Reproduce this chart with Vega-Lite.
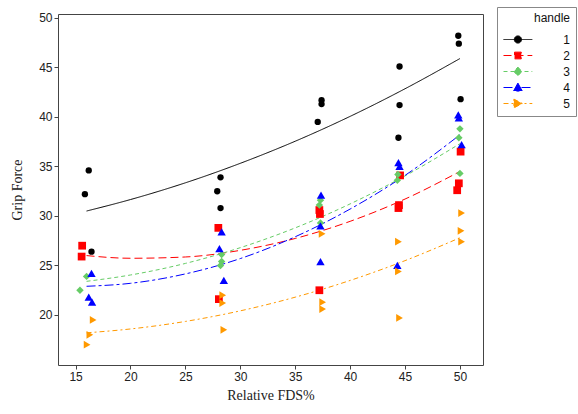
{
  "$schema": "https://vega.github.io/schema/vega-lite/v6.json",
  "autosize": "none",
  "width": 425,
  "height": 351,
  "padding": {"left": 58, "top": 14, "right": 95, "bottom": 49},
  "background": "white",
  "config": {
    "view": {"stroke": "#444444", "strokeWidth": 1},
    "axis": {
      "grid": false,
      "domain": false,
      "tickColor": "#444444",
      "tickSize": 4,
      "labelFont": "Liberation Sans",
      "labelFontSize": 12,
      "labelColor": "#222222",
      "titleFont": "Liberation Serif",
      "titleFontSize": 14,
      "titleFontWeight": "normal",
      "titleColor": "#222222"
    }
  },
  "datasets": {
    "pts": [
      {"fds": 16.2, "force": 34.6, "handle": "1"},
      {"fds": 15.85, "force": 32.2, "handle": "1"},
      {"fds": 16.45, "force": 26.4, "handle": "1"},
      {"fds": 28.2, "force": 33.9, "handle": "1"},
      {"fds": 27.9, "force": 32.5, "handle": "1"},
      {"fds": 28.2, "force": 30.8, "handle": "1"},
      {"fds": 37.4, "force": 41.7, "handle": "1"},
      {"fds": 37.4, "force": 41.3, "handle": "1"},
      {"fds": 37.05, "force": 39.5, "handle": "1"},
      {"fds": 44.5, "force": 45.1, "handle": "1"},
      {"fds": 44.5, "force": 41.2, "handle": "1"},
      {"fds": 44.4, "force": 37.9, "handle": "1"},
      {"fds": 49.85, "force": 48.2, "handle": "1"},
      {"fds": 49.9, "force": 47.4, "handle": "1"},
      {"fds": 50.06, "force": 41.8, "handle": "1"},
      {"fds": 15.6, "force": 27.0, "handle": "2"},
      {"fds": 15.55, "force": 25.9, "handle": "2"},
      {"fds": 28.0, "force": 28.8, "handle": "2"},
      {"fds": 28.05, "force": 21.6, "handle": "2"},
      {"fds": 37.2, "force": 30.6, "handle": "2"},
      {"fds": 37.25, "force": 30.2, "handle": "2"},
      {"fds": 37.2, "force": 22.5, "handle": "2"},
      {"fds": 44.55, "force": 34.1, "handle": "2"},
      {"fds": 44.45, "force": 31.1, "handle": "2"},
      {"fds": 44.4, "force": 30.8, "handle": "2"},
      {"fds": 50.06, "force": 36.5, "handle": "2"},
      {"fds": 49.9, "force": 33.3, "handle": "2"},
      {"fds": 49.75, "force": 32.6, "handle": "2"},
      {"fds": 16.0, "force": 23.9, "handle": "3"},
      {"fds": 15.4, "force": 22.5, "handle": "3"},
      {"fds": 28.3, "force": 26.1, "handle": "3"},
      {"fds": 28.3, "force": 25.4, "handle": "3"},
      {"fds": 28.2, "force": 25.0, "handle": "3"},
      {"fds": 37.2, "force": 31.1, "handle": "3"},
      {"fds": 37.3, "force": 31.6, "handle": "3"},
      {"fds": 37.3, "force": 29.3, "handle": "3"},
      {"fds": 44.35, "force": 34.2, "handle": "3"},
      {"fds": 44.3, "force": 33.6, "handle": "3"},
      {"fds": 50.0, "force": 38.8, "handle": "3"},
      {"fds": 49.9, "force": 37.9, "handle": "3"},
      {"fds": 50.0, "force": 34.3, "handle": "3"},
      {"fds": 16.45, "force": 24.2, "handle": "4"},
      {"fds": 16.2, "force": 21.8, "handle": "4"},
      {"fds": 16.5, "force": 21.3, "handle": "4"},
      {"fds": 28.3, "force": 28.4, "handle": "4"},
      {"fds": 28.1, "force": 26.7, "handle": "4"},
      {"fds": 28.5, "force": 23.5, "handle": "4"},
      {"fds": 37.35, "force": 32.1, "handle": "4"},
      {"fds": 37.3, "force": 29.0, "handle": "4"},
      {"fds": 37.3, "force": 25.4, "handle": "4"},
      {"fds": 44.4, "force": 35.4, "handle": "4"},
      {"fds": 44.5, "force": 35.0, "handle": "4"},
      {"fds": 44.3, "force": 25.0, "handle": "4"},
      {"fds": 49.85, "force": 40.2, "handle": "4"},
      {"fds": 49.9, "force": 39.9, "handle": "4"},
      {"fds": 50.15, "force": 37.2, "handle": "4"},
      {"fds": 16.6, "force": 19.5, "handle": "5"},
      {"fds": 16.3, "force": 18.0, "handle": "5"},
      {"fds": 16.05, "force": 17.0, "handle": "5"},
      {"fds": 28.4, "force": 22.0, "handle": "5"},
      {"fds": 28.4, "force": 21.2, "handle": "5"},
      {"fds": 28.5, "force": 18.5, "handle": "5"},
      {"fds": 37.45, "force": 28.2, "handle": "5"},
      {"fds": 37.5, "force": 21.3, "handle": "5"},
      {"fds": 37.5, "force": 20.6, "handle": "5"},
      {"fds": 44.4, "force": 27.4, "handle": "5"},
      {"fds": 44.4, "force": 24.4, "handle": "5"},
      {"fds": 44.5, "force": 19.7, "handle": "5"},
      {"fds": 50.15, "force": 30.3, "handle": "5"},
      {"fds": 50.1, "force": 28.5, "handle": "5"},
      {"fds": 50.15, "force": 27.4, "handle": "5"}
    ],
    "fit": [
      {"fds": 16, "force": 30.5, "handle": "1"},
      {"fds": 20, "force": 31.66, "handle": "1"},
      {"fds": 25, "force": 33.35, "handle": "1"},
      {"fds": 30, "force": 35.32, "handle": "1"},
      {"fds": 35, "force": 37.55, "handle": "1"},
      {"fds": 40, "force": 40.06, "handle": "1"},
      {"fds": 45, "force": 42.85, "handle": "1"},
      {"fds": 50, "force": 45.9, "handle": "1"},
      {"fds": 16, "force": 26.0, "handle": "2"},
      {"fds": 20, "force": 25.73, "handle": "2"},
      {"fds": 25, "force": 25.86, "handle": "2"},
      {"fds": 30, "force": 26.53, "handle": "2"},
      {"fds": 35, "force": 27.73, "handle": "2"},
      {"fds": 40, "force": 29.46, "handle": "2"},
      {"fds": 45, "force": 31.71, "handle": "2"},
      {"fds": 50, "force": 34.5, "handle": "2"},
      {"fds": 16, "force": 23.4, "handle": "3"},
      {"fds": 20, "force": 24.04, "handle": "3"},
      {"fds": 25, "force": 25.21, "handle": "3"},
      {"fds": 30, "force": 26.8, "handle": "3"},
      {"fds": 35, "force": 28.8, "handle": "3"},
      {"fds": 40, "force": 31.22, "handle": "3"},
      {"fds": 45, "force": 34.05, "handle": "3"},
      {"fds": 50, "force": 37.3, "handle": "3"},
      {"fds": 16, "force": 22.9, "handle": "4"},
      {"fds": 20, "force": 23.2, "handle": "4"},
      {"fds": 25, "force": 24.15, "handle": "4"},
      {"fds": 30, "force": 25.7, "handle": "4"},
      {"fds": 35, "force": 27.9, "handle": "4"},
      {"fds": 40, "force": 30.7, "handle": "4"},
      {"fds": 45, "force": 34.1, "handle": "4"},
      {"fds": 50, "force": 38.2, "handle": "4"},
      {"fds": 16, "force": 18.2, "handle": "5"},
      {"fds": 20, "force": 18.59, "handle": "5"},
      {"fds": 25, "force": 19.35, "handle": "5"},
      {"fds": 30, "force": 20.42, "handle": "5"},
      {"fds": 35, "force": 21.8, "handle": "5"},
      {"fds": 40, "force": 23.49, "handle": "5"},
      {"fds": 45, "force": 25.49, "handle": "5"},
      {"fds": 50, "force": 27.8, "handle": "5"}
    ]
  },
  "encoding": {
    "x": {
      "field": "fds", "type": "quantitative",
      "scale": {"domain": [13.4, 52.1], "nice": false, "zero": false},
      "axis": {"values": [15, 20, 25, 30, 35, 40, 45, 50], "title": "Relative FDS%", "titlePadding": 6}
    },
    "y": {
      "field": "force", "type": "quantitative",
      "scale": {"domain": [14.95, 50.4], "nice": false, "zero": false},
      "axis": {"values": [20, 25, 30, 35, 40, 45, 50], "title": "Grip Force", "titlePadding": 14}
    },
    "color": {
      "field": "handle", "type": "nominal",
      "scale": {"domain": ["1", "2", "3", "4", "5"], "range": ["#000000", "#FF0000", "#66CC66", "#0000FF", "#FF9900"]},
      "legend": {
        "title": "handle",
        "orient": "none",
        "legendX": 439,
        "legendY": -7,
        "padding": 6,
        "strokeColor": "#888888",
        "fillColor": "white",
        "titleFont": "Liberation Sans",
        "titleFontSize": 12,
        "titleFontWeight": "normal",
        "titleColor": "#111111",
        "titleAnchor": "end",
        "titleAlign": "right",
        "titlePadding": 6,
        "labelFont": "Liberation Sans",
        "labelFontSize": 12,
        "labelColor": "#111111",
        "labelAlign": "right",
        "labelOffset": 50,
        "symbolSize": 256,
        "rowPadding": 1,
        "encode": {
          "symbols": {
            "update": {
              "shape": {"signal": "datum.value == '1' ? 'M-1,0H2.6M0.35,0A0.45,0.45,0,1,0,1.25,0A0.45,0.45,0,1,0,0.35,0Z' : datum.value == '2' ? 'M-1,0H2.6M0.38,-0.42H1.22V0.42H0.38Z' : datum.value == '3' ? 'M-1,0H2.6M0.8,-0.55L1.3,0L0.8,0.55L0.3,0Z' : datum.value == '4' ? 'M-1,0H2.6M0.8,-0.55L1.35,0.45H0.25Z' : 'M-1,0H2.6M0.3,-0.55L1.35,0L0.3,0.55Z'"},
              "fill": {"signal": "datum.value == '1' ? '#000000' : datum.value == '2' ? '#FF0000' : datum.value == '3' ? '#66CC66' : datum.value == '4' ? '#0000FF' : '#FF9900'"},
              "stroke": {"signal": "datum.value == '1' ? '#000000' : datum.value == '2' ? '#FF0000' : datum.value == '3' ? '#66CC66' : datum.value == '4' ? '#0000FF' : '#FF9900'"},
              "strokeDash": {"signal": "datum.value == '1' ? [1,0] : datum.value == '2' ? [8,4] : datum.value == '3' ? [4,3] : datum.value == '4' ? [9,3,3,3] : [5,3,2,3]"},
              "strokeWidth": {"value": 1},
              "opacity": {"value": 1}
            }
          }
        }
      }
    }
  },
  "layer": [
    {
      "data": {"name": "fit"},
      "mark": {"type": "line", "strokeWidth": 1, "interpolate": "monotone"},
      "encoding": {
        "strokeDash": {
          "field": "handle", "type": "nominal",
          "scale": {"domain": ["1", "2", "3", "4", "5"], "range": [[1, 0], [8, 4], [4, 3], [9, 3, 3, 3], [5, 3, 2, 3]]},
          "legend": null
        }
      }
    },
    {
      "data": {"name": "pts"},
      "transform": [{"filter": "datum.handle == '1'"}],
      "mark": {"type": "point", "filled": true, "opacity": 1, "shape": "circle", "size": 40}
    },
    {
      "data": {"name": "pts"},
      "transform": [{"filter": "datum.handle == '2'"}],
      "mark": {"type": "point", "filled": true, "opacity": 1, "shape": "square", "size": 60}
    },
    {
      "data": {"name": "pts"},
      "transform": [{"filter": "datum.handle == '3'"}],
      "mark": {"type": "point", "filled": true, "opacity": 1, "shape": "diamond", "size": 55}
    },
    {
      "data": {"name": "pts"},
      "transform": [{"filter": "datum.handle == '4'"}],
      "mark": {"type": "point", "filled": true, "opacity": 1, "shape": "triangle-up", "size": 70}
    },
    {
      "data": {"name": "pts"},
      "transform": [{"filter": "datum.handle == '5'"}],
      "mark": {"type": "point", "filled": true, "opacity": 1, "shape": "triangle-right", "size": 60}
    }
  ]
}
